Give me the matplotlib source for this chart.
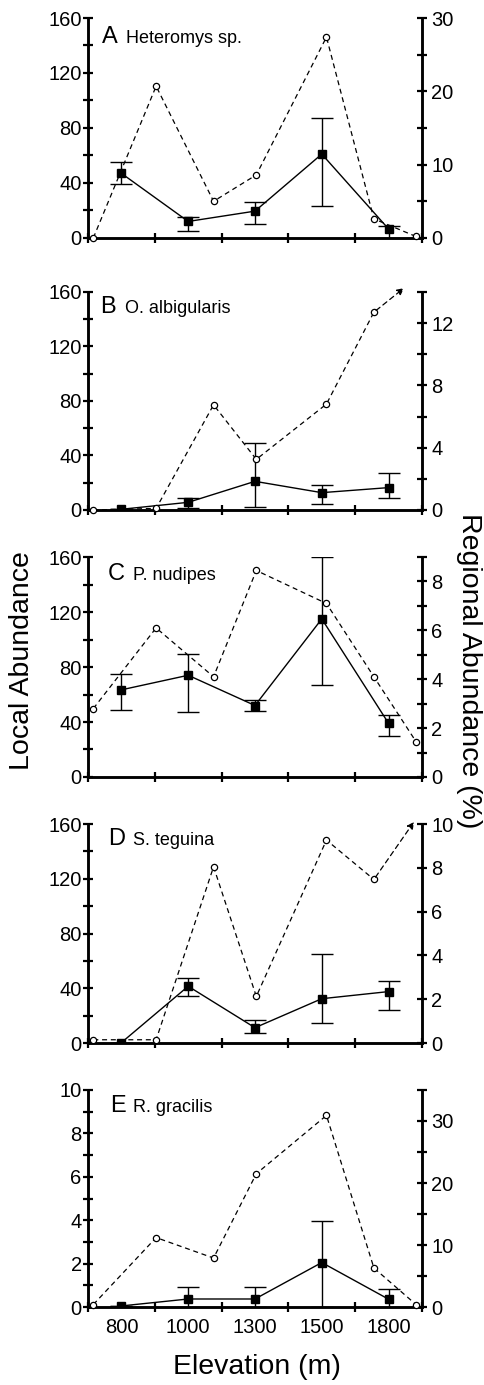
import matplotlib
matplotlib.use("Agg")
import matplotlib.pyplot as plt
from matplotlib.ticker import MultipleLocator

plt.rcParams['font.family'] = ['Liberation Sans', 'DejaVu Sans']

# elevation classes (local samples sit in the middle of each class)
elev_labels = ['800', '1000', '1300', '1500', '1800']
local_x = [0.5, 1.5, 2.5, 3.5, 4.5]
# regional survey points, in the same class units
regional_x = [0.08, 1.02, 1.88, 2.52, 3.57, 4.28, 4.91]

panel_letters = ['A', 'B', 'C', 'D', 'E']
species = ['Heteromys sp.', 'O. albigularis', 'P. nudipes', 'S. teguina', 'R. gracilis']

# local abundance (mean, upper and lower ends of the error bars)
local_a = [47, 12, 19.5, 61, 6.5]
local_a_hi = [55, 15.5, 26, 87.5, 9]
local_a_lo = [39.5, 5, 10, 23, 0]
local_b = [0.5, 5.6, 21, 12.7, 16.4]
local_b_hi = [0.5, 9, 49, 18.6, 27.4]
local_b_lo = [0.5, 1.7, 2, 4.2, 9]
local_c = [63.4, 74, 52, 115, 39]
local_c_hi = [75, 89.5, 56, 160, 45]
local_c_lo = [48.5, 47, 48, 67, 30]
local_d = [0.3, 41.5, 11.2, 32.4, 37.6]
local_d_hi = [0.3, 47.3, 16.6, 65, 45]
local_d_lo = [0.3, 34.4, 7.6, 15, 24]
local_e = [0.05, 0.37, 0.37, 2.05, 0.36]
local_e_hi = [0.05, 0.93, 0.93, 3.95, 0.83]
local_e_lo = [0.05, 0, 0, 0, 0]

# regional abundance (%)
regional_a = [0, 20.7, 5.0, 8.6, 27.4, 2.6, 0.2]
regional_b = [0, 0.1, 6.75, 3.25, 6.8, 12.7]
regional_c = [2.8, 6.1, 4.1, 8.45, 7.1, 4.1, 1.45]
regional_d = [0.15, 0.15, 8.05, 2.13, 9.27, 7.47]
regional_e = [0.4, 11.2, 7.9, 21.5, 30.9, 6.3, 0.4]
# off-scale values shown as an arrow (x, y)
arrow_b = (4.73, 14.25)
arrow_d = (4.88, 10.1)

local = [local_a, local_b, local_c, local_d, local_e]
local_hi = [local_a_hi, local_b_hi, local_c_hi, local_d_hi, local_e_hi]
local_lo = [local_a_lo, local_b_lo, local_c_lo, local_d_lo, local_e_lo]
regional = [regional_a, regional_b, regional_c, regional_d, regional_e]
arrows = [None, arrow_b, None, arrow_d, None]

left_lim = [160, 160, 160, 160, 10]
left_major = [40, 40, 40, 40, 2]
left_minor = [20, 20, 20, 20, 1]
right_lim = [30, 14, 9, 10, 35]
right_major = [10, 4, 2, 2, 10]
right_minor = [5, 2, 1, 2, 5]

# axes boxes [left, bottom, width, height]
boxes = [
    [0.1814, 0.8282, 0.6887, 0.1588],
    [0.1814, 0.6318, 0.6887, 0.1574],
    [0.1814, 0.4390, 0.6887, 0.1588],
    [0.1814, 0.2469, 0.6887, 0.1581],
    [0.1814, 0.0563, 0.6887, 0.1567],
]
letter_pos = [(0.041, 0.888, 0.114), (0.036, 0.902, 0.111), (0.06, 0.895, 0.135),
              (0.06, 0.904, 0.135), (0.066, 0.899, 0.135)]

fig = plt.figure(figsize=(4.85, 13.85), dpi=100)

spine_w = 1.8
tick_fs = 14.5
for i in range(5):
    ax = fig.add_axes(boxes[i])
    ax2 = ax.twinx()

    # regional abundance, dashed with open circles
    ax2.plot(regional_x[:len(regional[i])], regional[i], linestyle=(0, (4, 3)), color='black',
             linewidth=0.9, marker='o', markersize=4.5, markerfacecolor='white',
             markeredgecolor='black', markeredgewidth=0.9, clip_on=False, zorder=3)
    if arrows[i] is not None:
        n = len(regional[i])
        ax2.annotate('', xy=arrows[i], xytext=(regional_x[n - 1], regional[i][-1]),
                     arrowprops=dict(arrowstyle='-|>', linestyle=(0, (4, 3)), color='black',
                                     linewidth=0.9, mutation_scale=10, shrinkA=2, shrinkB=0),
                     annotation_clip=False)

    # local abundance with error bars
    yerr = [[m - lo for m, lo in zip(local[i], local_lo[i])],
            [hi - m for m, hi in zip(local[i], local_hi[i])]]
    ax.errorbar(local_x, local[i], yerr=yerr, color='black', linewidth=1.0,
                elinewidth=1.0, capsize=8, capthick=1.0, marker='s', markersize=6,
                clip_on=True, zorder=4)

    ax.set_xlim(0, 5)
    ax.set_ylim(0, left_lim[i])
    ax2.set_ylim(0, right_lim[i])

    for a in (ax, ax2):
        a.spines['top'].set_visible(False)
        for s in ('left', 'right', 'bottom'):
            a.spines[s].set_linewidth(spine_w)

    ax.yaxis.set_major_locator(MultipleLocator(left_major[i]))
    ax.yaxis.set_minor_locator(MultipleLocator(left_minor[i]))
    ax2.yaxis.set_major_locator(MultipleLocator(right_major[i]))
    ax2.yaxis.set_minor_locator(MultipleLocator(right_minor[i]))
    ax.tick_params(axis='y', which='both', direction='inout', length=7, width=1.6,
                   labelsize=tick_fs, pad=1)
    ax2.tick_params(axis='y', which='both', direction='inout', length=7, width=1.6,
                    labelsize=tick_fs, pad=3)

    ax.set_xticks([0, 1, 2, 3, 4, 5])
    ax.set_xticklabels([])
    ax.set_xticks(local_x, minor=True)
    ax.tick_params(axis='x', which='major', direction='inout', length=7, width=1.6)
    ax.tick_params(axis='x', which='minor', length=0, labelsize=tick_fs, pad=8)
    if i == 4:
        ax.set_xticklabels(elev_labels, minor=True)
    else:
        ax.set_xticklabels([], minor=True)

    lx, ly, nx = letter_pos[i]
    ax.text(lx, ly, panel_letters[i], transform=ax.transAxes, fontsize=17, va='baseline')
    ax.text(nx, ly, species[i], transform=ax.transAxes, fontsize=13, va='baseline')

fig.text(0.045, 0.523, 'Local Abundance', rotation=90, fontsize=20.5, ha='center', va='center')
fig.text(0.968, 0.516, 'Regional Abundance (%)', rotation=270, fontsize=20.5,
         ha='center', va='center')
fig.text(0.53, 0.013, 'Elevation (m)', fontsize=20.5, ha='center', va='center')

fig.savefig('out.png', dpi=100)
